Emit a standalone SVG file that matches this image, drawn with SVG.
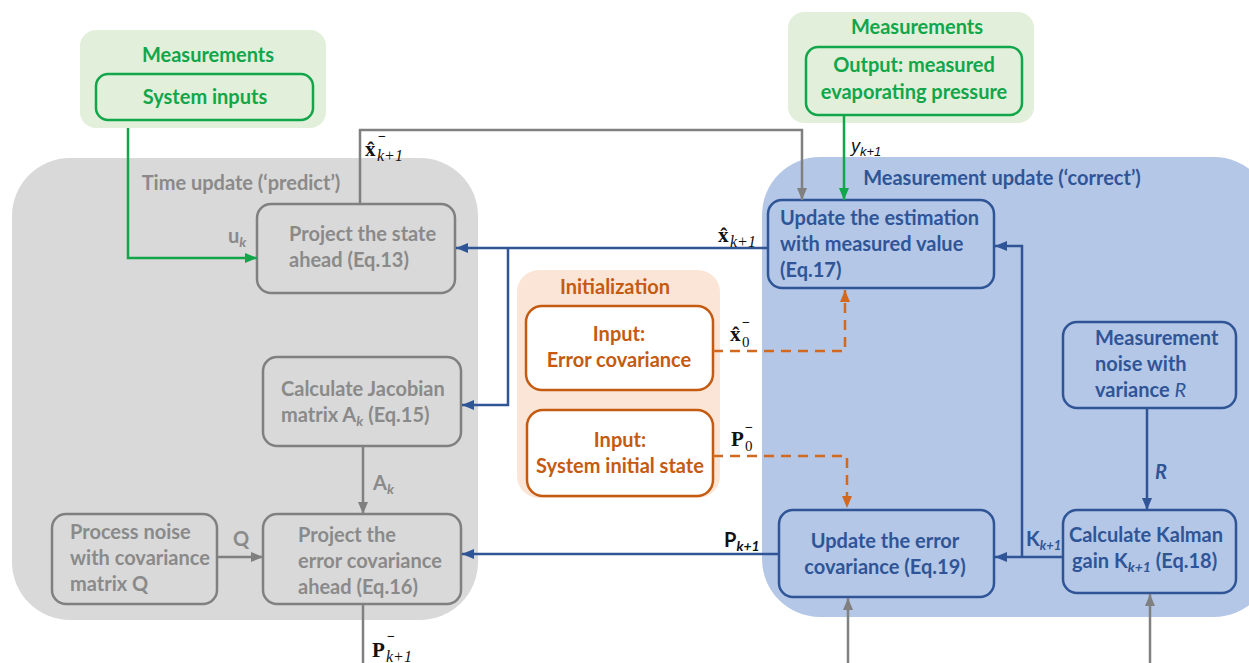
<svg xmlns="http://www.w3.org/2000/svg" width="1249" height="663" viewBox="0 0 1249 663">
<defs>
<style>
.t{font-family:Lato,"Liberation Sans",sans-serif;font-weight:bold;font-size:20px}
.g{fill:#8a8a8a}
.b{fill:#2f5597}
.gr{fill:#12a64a}
.o{fill:#c55a11}
.m{font-family:"Liberation Serif",serif;font-weight:bold;font-size:21px;fill:#111}
.mi{font-family:"Liberation Serif",serif;font-style:italic;font-size:16px;fill:#111}
.ms{font-family:"Liberation Serif",serif;font-weight:bold;font-size:14px;fill:#111}
.ng{fill:none;stroke:#808080;stroke-width:2.5}
.nb{fill:none;stroke:#2f5597;stroke-width:2.5}
.ngr{fill:none;stroke:#12a64a;stroke-width:2.5}
.no{fill:#fff;stroke:#c55a11;stroke-width:2.5}
.cg{fill:none;stroke:#808080;stroke-width:2.5}
.cb{fill:none;stroke:#2f5597;stroke-width:2.5}
.cgr{fill:none;stroke:#12a64a;stroke-width:2.5}
.co{fill:none;stroke:#d2691e;stroke-width:2.5;stroke-dasharray:10,7}
</style>
<marker id="ag" markerUnits="userSpaceOnUse" markerWidth="12" markerHeight="10" refX="12" refY="5" orient="auto"><path d="M0,0 L12,5 L0,10 z" fill="#808080"/></marker>
<marker id="ab" markerUnits="userSpaceOnUse" markerWidth="12" markerHeight="10" refX="12" refY="5" orient="auto"><path d="M0,0 L12,5 L0,10 z" fill="#2f5597"/></marker>
<marker id="agr" markerUnits="userSpaceOnUse" markerWidth="12" markerHeight="10" refX="12" refY="5" orient="auto"><path d="M0,0 L12,5 L0,10 z" fill="#12a64a"/></marker>
<marker id="ao" markerUnits="userSpaceOnUse" markerWidth="12" markerHeight="10" refX="12" refY="5" orient="auto"><path d="M0,0 L12,5 L0,10 z" fill="#d2691e"/></marker>
</defs>
<rect width="1249" height="663" fill="#fff"/>

<!-- regions -->
<g id="region-time">
<rect x="12" y="158" width="466" height="462" rx="58" fill="#d9d9d9"/>
<text class="t g" x="241" y="190" text-anchor="middle">Time update (‘predict’)</text>
</g>
<g id="region-measure">
<rect x="762" y="157" width="510" height="460" rx="58" fill="#b4c7e7"/>
<text class="t b" x="1002" y="185" text-anchor="middle">Measurement update (‘correct’)</text>
</g>
<g id="region-init">
<rect x="517" y="270" width="203" height="228" rx="22" fill="#fbe5d6"/>
<text class="t o" x="615" y="294" text-anchor="middle">Initialization</text>
</g>
<g id="meas-left">
<rect x="80" y="30" width="246" height="98" rx="16" fill="#e2efda"/>
<text class="t gr" x="208" y="62" text-anchor="middle">Measurements</text>
<rect class="ngr" x="96" y="74" width="217" height="46" rx="12"/>
<text class="t gr" x="205" y="104" text-anchor="middle">System inputs</text>
</g>
<g id="meas-right">
<rect x="788" y="12" width="246" height="111" rx="16" fill="#e2efda"/>
<text class="t gr" x="917" y="34" text-anchor="middle">Measurements</text>
<rect class="ngr" x="806" y="47" width="216" height="68" rx="12"/>
<text class="t gr" x="914" y="72" text-anchor="middle">Output: measured</text>
<text class="t gr" x="914" y="99" text-anchor="middle">evaporating pressure</text>
</g>

<!-- gray nodes -->
<g id="project-state">
<rect class="ng" x="257" y="204" width="198" height="89" rx="14"/>
<text class="t g" x="289" y="241">Project the state</text>
<text class="t g" x="289" y="267">ahead (Eq.13)</text>
</g>
<g id="jacobian">
<rect class="ng" x="263" y="357" width="198" height="89" rx="14"/>
<text class="t g" x="281" y="396">Calculate Jacobian</text>
<text class="t g" x="281" y="422">matrix A<tspan font-style="italic" font-size="14" dy="4">k</tspan><tspan dy="-4"> (Eq.15)</tspan></text>
</g>
<g id="process-noise">
<rect class="ng" x="52" y="514" width="165" height="90" rx="14"/>
<text class="t g" x="70" y="539">Process noise</text>
<text class="t g" x="70" y="565">with covariance</text>
<text class="t g" x="70" y="591">matrix Q</text>
</g>
<g id="project-cov">
<rect class="ng" x="263" y="514" width="198" height="90" rx="14"/>
<text class="t g" x="298" y="542">Project the</text>
<text class="t g" x="298" y="568">error covariance</text>
<text class="t g" x="298" y="594">ahead (Eq.16)</text>
</g>

<!-- blue nodes -->
<g id="update-est">
<rect class="nb" x="768" y="200" width="226" height="88" rx="14"/>
<text class="t b" x="780" y="225">Update the estimation</text>
<text class="t b" x="780" y="251">with measured value</text>
<text class="t b" x="780" y="277">(Eq.17)</text>
</g>
<g id="meas-noise">
<rect class="nb" x="1063" y="322" width="173" height="86" rx="14"/>
<text class="t b" x="1095" y="345">Measurement</text>
<text class="t b" x="1095" y="371">noise with</text>
<text class="t b" x="1095" y="397">variance <tspan font-style="italic" font-weight="normal">R</tspan></text>
</g>
<g id="update-cov">
<rect class="nb" x="779" y="510" width="215" height="87" rx="14"/>
<text class="t b" x="885" y="548" text-anchor="middle">Update the error</text>
<text class="t b" x="885" y="574" text-anchor="middle">covariance (Eq.19)</text>
</g>
<g id="kalman">
<rect class="nb" x="1063" y="510" width="173" height="83" rx="14"/>
<text class="t b" x="1146" y="542" text-anchor="middle">Calculate Kalman</text>
<text class="t b" x="1072" y="568">gain K<tspan font-style="italic" font-size="14" dy="4">k+1</tspan><tspan dy="-4"> (Eq.18)</tspan></text>
</g>

<!-- orange nodes -->
<g id="init-cov">
<rect class="no" x="526" y="306" width="187" height="84" rx="16"/>
<text class="t o" x="619" y="341" text-anchor="middle">Input:</text>
<text class="t o" x="619" y="367" text-anchor="middle">Error covariance</text>
</g>
<g id="init-state">
<rect class="no" x="527" y="410" width="186" height="86" rx="16"/>
<text class="t o" x="620" y="447" text-anchor="middle">Input:</text>
<text class="t o" x="620" y="473" text-anchor="middle">System initial state</text>
</g>

<!-- connectors -->
<g id="connectors">
<path class="cgr" d="M128,128 V258 H257" marker-end="url(#agr)"/>
<path class="cgr" d="M844,115 V200" marker-end="url(#agr)"/>
<path class="cg" d="M360,204 V130 H802 V200" marker-end="url(#ag)"/>
<path class="cb" d="M768,248 H456" marker-end="url(#ab)"/>
<path class="cb" d="M508,248 V405 H462" marker-end="url(#ab)"/>
<path class="cg" d="M363,446 V514" marker-end="url(#ag)"/>
<path class="cg" d="M217,557 H263" marker-end="url(#ag)"/>
<path class="cg" d="M363,604 V663"/>
<path class="cb" d="M779,554 H462" marker-end="url(#ab)"/>
<path class="co" d="M713,351 H845 V290" marker-end="url(#ao)"/>
<path class="co" d="M713,456 H847 V508" marker-end="url(#ao)"/>
<path class="cb" d="M1063,557 H995" marker-end="url(#ab)"/>
<path class="cb" d="M1022,557 V246 H995" marker-end="url(#ab)"/>
<path class="cb" d="M1147,408 V510" marker-end="url(#ab)"/>
<path class="cg" d="M848,663 V598" marker-end="url(#ag)"/>
<path class="cg" d="M1150,663 V594" marker-end="url(#ag)"/>
</g>

<!-- connector labels -->
<g id="labels">
<text class="t g" x="228" y="243">u<tspan font-style="italic" font-size="14" dy="4">k</tspan></text>
<text class="t g" x="373" y="490">A<tspan font-style="italic" font-size="14" dy="4">k</tspan></text>
<text class="t g" x="233" y="546">Q</text>
<text class="t b" x="1026" y="546">K<tspan font-style="italic" font-size="13" dy="4">k+1</tspan></text>
<text class="t b" x="1155" y="479" font-style="italic" font-weight="normal">R</text>
<text class="t" x="724" y="547" fill="#111">P<tspan font-style="italic" font-size="14" dy="4">k+1</tspan></text>
<text font-family="Liberation Sans,sans-serif" font-style="italic" font-size="18" x="851" y="152" fill="#111">y<tspan font-size="13" dy="4">k+1</tspan></text>
<!-- x hat k+1 minus (top) -->
<text class="m" x="365" y="156">x̂</text>
<text class="mi" x="377" y="161">k+1</text>
<text class="ms" x="378" y="141">−</text>
<!-- x hat k+1 -->
<text class="m" x="718" y="242">x̂</text>
<text class="mi" x="730" y="247">k+1</text>
<!-- x hat 0 minus -->
<text class="m" x="730" y="341">x̂</text>
<text font-family="Liberation Serif,serif" font-size="15" x="742" y="347" fill="#111">0</text>
<text class="ms" x="742" y="327">−</text>
<!-- P0 minus -->
<text class="m" x="731" y="446">P</text>
<text font-family="Liberation Serif,serif" font-size="15" x="745" y="451" fill="#111">0</text>
<text class="ms" x="745" y="432">−</text>
<!-- P k+1 minus -->
<text class="m" x="372" y="657">P</text>
<text class="mi" x="386" y="662">k+1</text>
<text class="ms" x="387" y="641">−</text>
</g>
</svg>
